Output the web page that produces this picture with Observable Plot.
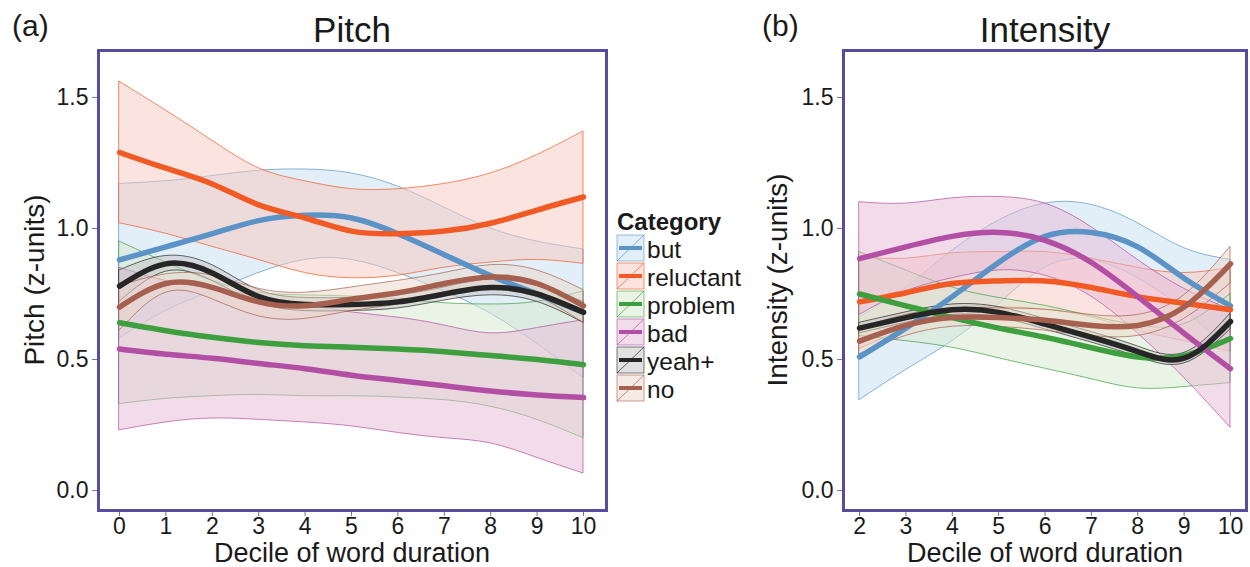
<!DOCTYPE html>
<html><head><meta charset="utf-8">
<script src="https://cdn.jsdelivr.net/npm/d3@7"></script>
<script src="https://cdn.jsdelivr.net/npm/@observablehq/plot@0.6"></script>
<style>
body{margin:0;background:#fff;}
#wrap{position:relative;width:1250px;height:567px;overflow:hidden;font-family:"Liberation Sans",Arial,Helvetica,sans-serif;color:#1a1a1a;}
.abs{position:absolute;white-space:nowrap;line-height:1;}
.plotbox{position:absolute;top:0;}
</style></head><body><div id="wrap"></div>
<script>
// ---------- data ----------
const categories = ["but", "reluctant", "problem", "bad", "yeah+", "no"];
const colors = ["#5b93c7", "#f15a24", "#3e9f3e", "#b24fa5", "#262626", "#a6604f"];
const bandFills = ["#c5dff3", "#f7c7bf", "#d5e9cd", "#e7b9d5", "#c4c4c4", "#ebd7c9"];

// Panel (a) Pitch, deciles 0..10
const pitchDeciles = [0, 1, 2, 3, 4, 5, 6, 7, 8, 9, 10];
const pitchMid = {
  "but":       [0.88, 0.93, 0.98, 1.03, 1.05, 1.04, 0.98, 0.90, 0.82, 0.75, 0.68],
  "reluctant": [1.29, 1.23, 1.17, 1.09, 1.04, 0.99, 0.98, 0.99, 1.02, 1.07, 1.12],
  "problem":   [0.64, 0.61, 0.585, 0.565, 0.553, 0.547, 0.54, 0.53, 0.515, 0.50, 0.48],
  "bad":       [0.54, 0.52, 0.505, 0.485, 0.465, 0.44, 0.42, 0.40, 0.38, 0.365, 0.355],
  "yeah+":     [0.78, 0.865, 0.83, 0.74, 0.71, 0.71, 0.72, 0.75, 0.775, 0.75, 0.68],
  "no":        [0.70, 0.79, 0.775, 0.72, 0.705, 0.73, 0.755, 0.79, 0.815, 0.79, 0.705]
};
const pitchLow = {
  "but":       [0.58, 0.685, 0.76, 0.83, 0.88, 0.88, 0.83, 0.76, 0.675, 0.56, 0.43],
  "reluctant": [1.02, 0.98, 0.93, 0.88, 0.83, 0.81, 0.82, 0.85, 0.87, 0.88, 0.865],
  "problem":   [0.33, 0.35, 0.36, 0.365, 0.36, 0.36, 0.355, 0.345, 0.32, 0.27, 0.20],
  "bad":       [0.23, 0.26, 0.275, 0.27, 0.26, 0.245, 0.22, 0.20, 0.18, 0.125, 0.065],
  "yeah+":     [0.72, 0.835, 0.80, 0.715, 0.685, 0.685, 0.695, 0.725, 0.745, 0.72, 0.64],
  "no":        [0.61, 0.755, 0.73, 0.665, 0.655, 0.685, 0.71, 0.75, 0.775, 0.74, 0.64]
};
const pitchHigh = {
  "but":       [1.17, 1.18, 1.20, 1.22, 1.225, 1.21, 1.16, 1.08, 1.00, 0.95, 0.92],
  "reluctant": [1.56, 1.45, 1.335, 1.23, 1.18, 1.15, 1.15, 1.17, 1.21, 1.28, 1.37],
  "problem":   [0.95, 0.87, 0.80, 0.755, 0.745, 0.74, 0.73, 0.715, 0.71, 0.72, 0.76],
  "bad":       [0.85, 0.80, 0.77, 0.74, 0.71, 0.68, 0.66, 0.63, 0.60, 0.62, 0.65],
  "yeah+":     [0.84, 0.895, 0.86, 0.765, 0.735, 0.735, 0.745, 0.775, 0.805, 0.78, 0.72],
  "no":        [0.78, 0.825, 0.82, 0.77, 0.755, 0.775, 0.80, 0.83, 0.86, 0.84, 0.765]
};

// Panel (b) Intensity, deciles 2..10
const intDeciles = [2, 3, 4, 5, 6, 7, 8, 9, 10];
const intMid = {
  "but":       [0.51, 0.62, 0.74, 0.87, 0.97, 0.985, 0.93, 0.81, 0.705],
  "reluctant": [0.72, 0.755, 0.79, 0.80, 0.80, 0.775, 0.74, 0.715, 0.69],
  "problem":   [0.75, 0.705, 0.66, 0.62, 0.585, 0.545, 0.51, 0.515, 0.58],
  "bad":       [0.885, 0.93, 0.97, 0.985, 0.955, 0.87, 0.74, 0.60, 0.465],
  "yeah+":     [0.62, 0.66, 0.69, 0.68, 0.635, 0.585, 0.53, 0.505, 0.645],
  "no":        [0.57, 0.63, 0.66, 0.66, 0.65, 0.63, 0.63, 0.70, 0.865]
};
const intLow = {
  "but":       [0.345, 0.46, 0.57, 0.71, 0.85, 0.88, 0.81, 0.69, 0.53],
  "reluctant": [0.54, 0.62, 0.69, 0.70, 0.69, 0.66, 0.61, 0.57, 0.53],
  "problem":   [0.59, 0.57, 0.545, 0.505, 0.465, 0.425, 0.39, 0.395, 0.41],
  "bad":       [0.67, 0.76, 0.81, 0.84, 0.82, 0.74, 0.60, 0.43, 0.24],
  "yeah+":     [0.60, 0.64, 0.67, 0.66, 0.615, 0.565, 0.51, 0.485, 0.615],
  "no":        [0.52, 0.59, 0.625, 0.625, 0.61, 0.59, 0.59, 0.655, 0.79]
};
const intHigh = {
  "but":       [0.66, 0.775, 0.915, 1.03, 1.095, 1.09, 1.02, 0.925, 0.88],
  "reluctant": [0.89, 0.885, 0.905, 0.91, 0.91, 0.885, 0.85, 0.83, 0.85],
  "problem":   [0.91, 0.84, 0.775, 0.735, 0.705, 0.665, 0.63, 0.635, 0.75],
  "bad":       [1.10, 1.095, 1.115, 1.12, 1.095, 1.005, 0.88, 0.77, 0.69],
  "yeah+":     [0.64, 0.68, 0.71, 0.70, 0.655, 0.605, 0.55, 0.525, 0.675],
  "no":        [0.62, 0.67, 0.695, 0.695, 0.69, 0.67, 0.67, 0.745, 0.93]
};

const yTicks = [0, 0.5, 1.0, 1.5];
const pitchXTicks = [0, 1, 2, 3, 4, 5, 6, 7, 8, 9, 10];
const intXTicks = [2, 3, 4, 5, 6, 7, 8, 9, 10];

// ---------- build ----------
const FONT = '"Liberation Sans", Arial, Helvetica, sans-serif';
const wrap = document.getElementById("wrap");

function rowsFor(deciles, mid, low, high, cat) {
  return deciles.map((d, i) => ({x: d, mid: mid[cat][i], lo: low[cat][i], hi: high[cat][i], cat}));
}

function panel({deciles, mid, low, high, xdom, xticks, width, marginLeft, marginRight}) {
  const bands = [], lines = [];
  categories.forEach((cat, i) => {
    const rows = rowsFor(deciles, mid, low, high, cat);
    bands.push(Plot.areaY(rows, {x: "x", y1: "lo", y2: "hi", fill: bandFills[i], fillOpacity: 0.5,
      stroke: "cat", strokeOpacity: 0.7, strokeWidth: 1, curve: "natural"}));
    lines.push(Plot.line(rows, {x: "x", y: "mid", stroke: "cat", strokeWidth: 5.5, curve: "natural"}));
  });
  const marks = [...bands, ...lines,
    Plot.axisX(xticks, {tickSize: 6, tickPadding: 1, fontSize: 23, label: null, stroke: "#777", fill: "#1a1a1a"}),
    Plot.axisY(yTicks, {tickSize: 6, tickPadding: 4, fontSize: 23, label: null, tickFormat: d3.format(".1f"), stroke: "#777", fill: "#1a1a1a"}),
    Plot.frame({stroke: "#5a4aa0", strokeWidth: 3})
  ];
  return Plot.plot({
    width, height: 567,
    marginLeft, marginRight, marginTop: 50, marginBottom: 57,
    x: {domain: xdom},
    y: {domain: [-0.076, 1.679]},
    color: {domain: categories, range: colors},
    style: {fontFamily: FONT, fontSize: "23px", background: "transparent", overflow: "visible"},
    marks
  });
}

const left = panel({deciles: pitchDeciles, mid: pitchMid, low: pitchLow, high: pitchHigh,
  xdom: [-0.4526, 10.496], xticks: pitchXTicks, width: 612, marginLeft: 98, marginRight: 6});
left.classList.add("plotbox"); left.style.left = "0px";
wrap.appendChild(left);

const right = panel({deciles: intDeciles, mid: intMid, low: intLow, high: intHigh,
  xdom: [1.654, 10.345], xticks: intXTicks, width: 625, marginLeft: 218, marginRight: 4});
right.classList.add("plotbox"); right.style.left = "625px";
wrap.appendChild(right);

// texts
function addText(txt, css) {
  const d = document.createElement("div");
  d.className = "abs";
  d.textContent = txt;
  Object.assign(d.style, css);
  wrap.appendChild(d);
  return d;
}
addText("(a)", {left: "12px", top: "11px", fontSize: "30px"});
addText("(b)", {left: "762px", top: "11px", fontSize: "30px"});
addText("Pitch", {left: "352px", top: "12px", fontSize: "35px", transform: "translateX(-50%)"});
addText("Intensity", {left: "1045px", top: "12px", fontSize: "35px", transform: "translateX(-50%)"});
addText("Decile of word duration", {left: "352px", top: "543px", fontSize: "27px", lineHeight: "0.8", transform: "translateX(-50%)"});
addText("Decile of word duration", {left: "1045px", top: "543px", fontSize: "27px", lineHeight: "0.8", transform: "translateX(-50%)"});
addText("Pitch (z-units)", {left: "35px", top: "280px", fontSize: "28px", transform: "translate(-50%,-50%) rotate(-90deg)"});
addText("Intensity (z-units)", {left: "778px", top: "280px", fontSize: "28px", transform: "translate(-50%,-50%) rotate(-90deg)"});

// legend
const leg = d3.create("svg").attr("width", 150).attr("height", 210)
  .style("position", "absolute").style("left", "610px").style("top", "205px")
  .style("font-family", FONT).style("overflow", "visible");
leg.append("text").attr("x", 7).attr("y", 25).attr("font-size", 24).attr("font-weight", "bold")
  .attr("fill", "#1a1a1a").text("Category");
categories.forEach((c, i) => {
  const y0 = 30 + i * 28;
  const g = leg.append("g").attr("transform", `translate(7,${y0})`);
  g.append("rect").attr("x", 0).attr("y", 0).attr("width", 27).attr("height", 26)
    .attr("fill", bandFills[i]).attr("fill-opacity", 0.5).attr("stroke", colors[i]).attr("stroke-opacity", 0.6).attr("stroke-width", 1);
  g.append("line").attr("x1", 0).attr("y1", 26).attr("x2", 27).attr("y2", 0)
    .attr("stroke", colors[i]).attr("stroke-opacity", 0.7).attr("stroke-width", 1);
  g.append("line").attr("x1", 2).attr("y1", 13).attr("x2", 25).attr("y2", 13)
    .attr("stroke", colors[i]).attr("stroke-width", 4);
  g.append("text").attr("x", 30).attr("y", 23).attr("font-size", 24.5).attr("fill", "#1a1a1a").text(c);
});
wrap.appendChild(leg.node());
</script>
</body></html>
